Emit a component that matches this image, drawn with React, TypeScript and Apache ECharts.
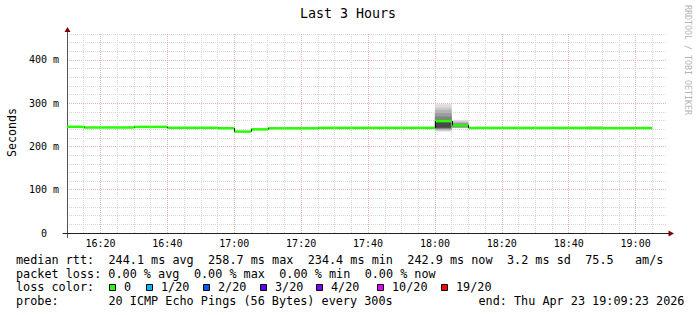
import { useEffect, useRef } from 'react';
import * as echarts from 'echarts';

// 5-minute steps (start time of each step)
const stepStarts = ['16:10','16:15','16:20','16:25','16:30','16:35','16:40','16:45','16:50','16:55','17:00','17:05','17:10','17:15','17:20','17:25','17:30','17:35','17:40','17:45','17:50','17:55','18:00','18:05','18:10','18:15','18:20','18:25','18:30','18:35','18:40','18:45','18:50','18:55','19:00'];
// median rtt in ms
const medianMs = [245.5,243.9,243.9,243.9,245.3,245.3,243.2,243.2,243.2,242.2,234.4,239.6,242.0,242.0,242.0,243.0,243.0,243.0,243.0,243.0,243.0,243.0,258.7,248.7,242.8,242.8,242.8,242.8,242.8,242.8,242.8,242.4,242.4,242.4,242.6];

// smoke bands (ms)
const smokeTime = ['18:00','18:00','18:00','18:00','18:00','18:00','18:00','18:05','18:05','18:05','18:05','18:45'];
const smokeLow = [234.4,236.4,238.3,240.2,241.5,242.2,243.5,242.2,243.2,244.0,244.8,243.0];
const smokeHigh = [297.8,290.1,284.7,277.0,269.3,261.5,256.1,261.5,257.6,254.0,251.0,247.4];
const smokeGray = ['#dedede','#cacaca','#b4b4b4','#9c9c9c','#828282','#666666','#484848','#dedede','#bcbcbc','#949494','#6c6c6c','#d4d4d4'];

const lossLabels = ['0','1/20','2/20','3/20','4/20','10/20','19/20'];
const lossColors = ['#26ff00','#00b8ff','#0059ff','#5e00ff','#7e00ff','#dd00ff','#ff0000'];

const titleText = 'Last 3 Hours';
const yAxisName = 'Seconds';
const legendLine1 = 'median rtt:  244.1 ms avg  258.7 ms max  234.4 ms min  242.9 ms now  3.2 ms sd  75.5   am/s';
const legendLine2 = 'packet loss: 0.00 % avg  0.00 % max  0.00 % min  0.00 % now';
const probeLabel = 'probe:';
const probeText = '20 ICMP Echo Pings (56 Bytes) every 300s';
const endText = 'end: Thu Apr 23 19:09:23 2026';
const lossTitle = 'loss color:';
const watermark = 'RRDTOOL / TOBI OETIKER';

const X_MIN = 16 * 60 + 10;
const X_MAX = 19 * 60 + 9 + 23 / 60;

const toMin = (s: string) => {
  const [h, m] = s.split(':').map(Number);
  return h * 60 + m;
};
const pad = (n: number) => (n < 10 ? '0' + n : '' + n);

const FONT = 'DejaVu Sans Mono';
const CH = 7.115; // monospace column width in legend
const LX = 16;

function monoLine(line: string, y: number, startCol = 0): any[] {
  const out: any[] = [];
  const re = /\S+(?: \S+)*/g;
  let m: RegExpExecArray | null;
  while ((m = re.exec(line))) {
    out.push({
      type: 'text',
      x: LX + (startCol + m.index) * CH,
      y,
      style: { text: m[0], font: `11.8px "${FONT}"`, fill: '#000', textVerticalAlign: 'middle', textAlign: 'left' },
    });
  }
  return out;
}

export default function App() {
  const ref = useRef<HTMLDivElement>(null);
  useEffect(() => {
    if (!ref.current) return;
    const chart = echarts.init(ref.current, undefined, { renderer: 'svg' });

    const medianData = stepStarts.map((t, i) => {
      const s = toMin(t);
      return [s, s + 5, medianMs[i], i > 0 ? medianMs[i - 1] : medianMs[i]];
    });
    const smokeData = smokeTime.map((t, i) => ({
      value: [toMin(t), toMin(t) + 5, smokeLow[i], smokeHigh[i]],
      itemStyle: { color: smokeGray[i] },
    }));

    const minor = '#d8d8d8';
    const major = '#eab4b4';

    const graphics: any[] = [];
    graphics.push({ type: 'text', x: 348, y: 13.5, style: { text: titleText, font: `13.3px "${FONT}"`, fill: '#000', textAlign: 'center', textVerticalAlign: 'middle' } });
    graphics.push({ type: 'text', x: 11.5, y: 132.5, rotation: Math.PI / 2, style: { text: yAxisName, font: `11.6px "${FONT}"`, fill: '#000', textAlign: 'center', textVerticalAlign: 'middle' } });
    graphics.push({ type: 'text', x: 687.5, y: 60, rotation: -Math.PI / 2, style: { text: watermark, font: `8.3px "${FONT}"`, fill: '#b4b4b4', textAlign: 'center', textVerticalAlign: 'middle' } });
    graphics.push({ type: 'line', shape: { x1: 62.5, y1: 233.5, x2: 67, y2: 233.5 }, style: { stroke: '#222', lineWidth: 1 } });
    graphics.push({ type: 'line', shape: { x1: 666, y1: 233.5, x2: 669, y2: 233.5 }, style: { stroke: '#222', lineWidth: 1 } });
    graphics.push({ type: 'line', shape: { x1: 67.5, y1: 233, x2: 67.5, y2: 238 }, style: { stroke: '#555', lineWidth: 1 } });
    graphics.push({ type: 'line', shape: { x1: 67.5, y1: 35, x2: 67.5, y2: 31 }, style: { stroke: '#555', lineWidth: 1 } });
    graphics.push({ type: 'polygon', shape: { points: [[64.5, 32], [67.5, 27], [70.5, 32]] }, style: { fill: '#7f0000' } });
    graphics.push({ type: 'polygon', shape: { points: [[668.5, 230.5], [674, 233.5], [668.5, 236.5]] }, style: { fill: '#7f0000' } });
    graphics.push(...monoLine(legendLine1, 259.7));
    graphics.push(...monoLine(legendLine2, 273.5));
    graphics.push(...monoLine(lossTitle, 287.3));
    const boxX = [109.5, 146.5, 203.5, 260.5, 316.5, 377.5, 441.5];
    lossLabels.forEach((lab, i) => {
      graphics.push({ type: 'rect', shape: { x: boxX[i], y: 284.5, width: 6, height: 6 }, style: { fill: lossColors[i], stroke: '#000', lineWidth: 1 } });
      graphics.push({ type: 'text', x: boxX[i] + 14.5, y: 287.3, style: { text: lab, font: `11.8px "${FONT}"`, fill: '#000', textAlign: 'left', textVerticalAlign: 'middle' } });
    });
    graphics.push(...monoLine(probeLabel, 301.1));
    graphics.push(...monoLine(probeText, 301.1, 13));
    graphics.push(...monoLine(endText, 301.1, 65));

    chart.setOption({
      animation: false,
      backgroundColor: '#fff',
      grid: { left: 67, right: 30, top: 34, bottom: 82, containLabel: false },
      xAxis: {
        type: 'value',
        min: X_MIN,
        max: X_MAX,
        interval: 5,
        axisLine: { show: true, lineStyle: { color: '#222', width: 1 } },
        axisTick: { show: false },
        axisLabel: {
          margin: 5,
          color: '#000',
          fontFamily: FONT,
          fontSize: 10,
          showMaxLabel: false,
          formatter: (v: number) => (Math.abs(v % 20) < 1e-6 ? `${Math.floor(v / 60)}:${pad(v % 60)}` : ''),
        },
        splitLine: {
          show: true,
          showMaxLine: false,
          lineStyle: { color: [minor, minor, major, minor], type: [1, 1], width: 1 },
        },
      },
      yAxis: {
        type: 'value',
        min: 0,
        max: 460,
        interval: 20,
        axisLine: { show: true, lineStyle: { color: '#555', width: 1 } },
        axisTick: { show: false },
        axisLabel: {
          margin: 8,
          color: '#000',
          fontFamily: FONT,
          fontSize: 10,
          formatter: (v: number) => (v % 100 === 0 ? (v === 0 ? '0\u00a0\u00a0' : `${v} m`) : ''),
        },
        splitLine: {
          show: true,
          lineStyle: { color: [major, minor, minor, minor, minor], type: [1, 1], width: 1 },
        },
      },
      series: [
        {
          type: 'custom',
          name: 'smoke',
          data: smokeData,
          encode: { x: [0, 1], y: [2, 3] },
          renderItem: (_p: any, api: any) => {
            const a = api.coord([api.value(0), api.value(3)]);
            const b = api.coord([api.value(1), api.value(2)]);
            return { type: 'rect', shape: { x: a[0], y: a[1], width: b[0] - a[0], height: b[1] - a[1] }, style: { fill: api.visual('color') } };
          },
          z: 2,
        },
        {
          type: 'custom',
          name: 'median rtt',
          data: medianData,
          encode: { x: [0, 1], y: [2, 3] },
          renderItem: (_p: any, api: any) => {
            const a = api.coord([api.value(0), api.value(2)]);
            const b = api.coord([api.value(1), api.value(2)]);
            const p = api.coord([api.value(0), api.value(3)]);
            const cx = Math.round(a[0]) + 0.5;
            return {
              type: 'group',
              children: [
                { type: 'rect', shape: { x: a[0], y: a[1] - 1.25, width: b[0] - a[0], height: 2.5 }, style: { fill: '#26ff00' } },
                { type: 'line', shape: { x1: cx, y1: p[1], x2: cx, y2: a[1] }, style: { stroke: '#000', lineWidth: 1 } },
              ],
            };
          },
          z: 3,
        },
      ],
      graphic: graphics,
    });
    return () => chart.dispose();
  }, []);
  return <div ref={ref} style={{ position: 'fixed', left: 0, top: 0, width: 697, height: 315 }} />;
}
